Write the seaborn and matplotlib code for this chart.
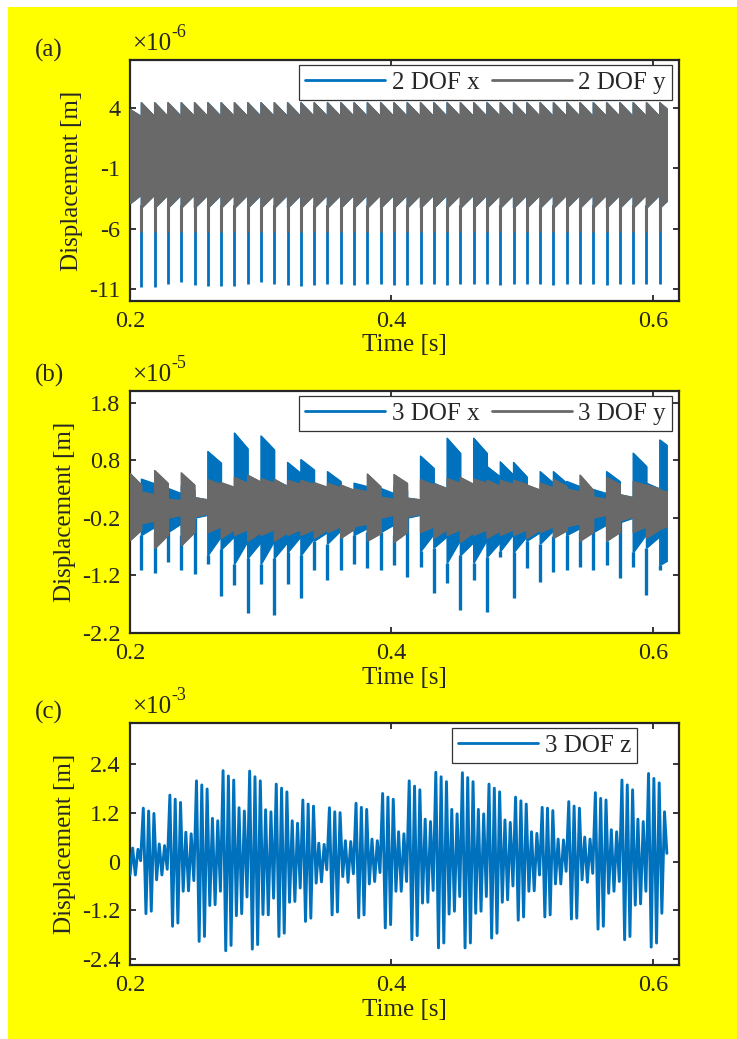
import numpy as np
import matplotlib
matplotlib.use("Agg")
import matplotlib.pyplot as plt
from matplotlib.patches import Rectangle
from matplotlib.lines import Line2D
from matplotlib.ticker import FormatStrFormatter
import seaborn as sns

# ---------------- data ----------------
# impact (spike) times shared by panels (a) and (b) [s]
spike_times = np.linspace(0.2087, 0.6053, 40)
t_begin, t_end = 0.2, 0.6107

# Panel (a), units 1e-6 m. Segment 0 = before first spike, segment j = after spike j-1
a_gray_top_s = [3.9] + [4.45] * 39 + [4.45]
a_gray_top_e = [3.3] + [3.3] * 39 + [3.95]
a_gray_bot_s = [-3.9] + [-4.25] * 39 + [-4.25]
a_gray_bot_e = [-3.15] + [-3.15] * 39 + [-3.7]
a_gray_spike_min = -6.3
a_blue_spike_min = [-10.83, -10.83, -10.61, -10.42, -10.64, -10.75, -10.75, -10.72, -10.61, -10.42,
                    -10.61, -10.69, -10.72, -10.64, -10.58, -10.61, -10.69, -10.61, -10.61, -10.69,
                    -10.64, -10.58, -10.61, -10.69, -10.61, -10.58, -10.61, -10.69, -10.61, -10.58,
                    -10.61, -10.69, -10.61, -10.58, -10.61, -10.69, -10.61, -10.61, -10.61, -10.61]

# Panel (b), units 1e-5 m (pre-segment + 40 segments)
b_blue_top_s = [0.45, 0.47, 0.30, 0.31, 0.35, 0.15, 0.95, 0.40, 1.27, 0.45, 1.22, 0.45, 0.76, 0.81, 0.35,
                0.60, 0.30, 0.40, 0.30, 0.31, 0.35, 0.14, 0.87, 0.40, 1.18, 0.45, 1.18, 0.69, 0.77, 0.76,
                0.35, 0.60, 0.60, 0.43, 0.30, 0.29, 0.60, 0.20, 0.92, 0.40, 1.15]
b_blue_top_e = [0.35, 0.39, 0.25, 0.22, 0.28, 0.11, 0.75, 0.30, 1.00, 0.35, 0.98, 0.35, 0.57, 0.63, 0.28,
                0.43, 0.25, 0.34, 0.25, 0.22, 0.28, 0.11, 0.66, 0.30, 0.92, 0.35, 0.92, 0.51, 0.54, 0.51,
                0.28, 0.40, 0.40, 0.34, 0.25, 0.22, 0.43, 0.15, 0.69, 0.30, 1.06]
b_blue_bot_s = [-0.50, -0.50, -0.45, -0.45, -0.50, -0.20, -0.85, -0.75, -1.00, -0.90, -1.00, -0.90, -0.80,
                -0.85, -0.60, -0.65, -0.50, -0.50, -0.45, -0.45, -0.50, -0.20, -0.78, -0.72, -0.98, -0.85,
                -0.98, -0.88, -0.78, -0.80, -0.60, -0.65, -0.52, -0.50, -0.45, -0.45, -0.60, -0.28, -0.80,
                -0.72, -1.02]
b_blue_bot_e = [-0.35, -0.36, -0.35, -0.30, -0.40, -0.15, -0.52, -0.52, -0.60, -0.62, -0.60, -0.62, -0.52,
                -0.55, -0.45, -0.42, -0.40, -0.38, -0.35, -0.32, -0.40, -0.15, -0.48, -0.52, -0.58, -0.62,
                -0.58, -0.62, -0.48, -0.52, -0.45, -0.42, -0.40, -0.38, -0.35, -0.32, -0.42, -0.20, -0.48,
                -0.52, -0.95]
b_blue_spike_min = [-1.10, -1.16, -0.97, -1.10, -1.17, -1.00, -1.56, -1.37, -1.86, -1.35, -1.89, -1.35,
                    -1.60, -1.11, -1.28, -1.10, -1.00, -1.08, -1.10, -1.02, -1.23, -1.05, -1.51, -1.34,
                    -1.80, -1.28, -1.83, -0.88, -1.60, -1.08, -1.31, -1.14, -1.10, -1.05, -1.10, -1.02,
                    -1.25, -1.05, -1.54, -1.11]
b_gray_top_s = [0.57, 0.25, 0.62, 0.12, 0.58, 0.15, 0.46, 0.41, 0.50, 0.54, 0.48, 0.47, 0.45, 0.45, 0.41,
                0.40, 0.37, 0.30, 0.56, 0.16, 0.55, 0.14, 0.46, 0.39, 0.48, 0.50, 0.47, 0.45, 0.45, 0.45,
                0.37, 0.40, 0.47, 0.30, 0.54, 0.16, 0.50, 0.20, 0.43, 0.37, 0.28]
b_gray_top_e = [0.37, 0.20, 0.40, 0.10, 0.37, 0.11, 0.38, 0.33, 0.40, 0.42, 0.40, 0.34, 0.38, 0.38, 0.33,
                0.32, 0.28, 0.25, 0.34, 0.12, 0.40, 0.11, 0.37, 0.31, 0.40, 0.38, 0.40, 0.35, 0.38, 0.38,
                0.28, 0.32, 0.34, 0.25, 0.28, 0.12, 0.38, 0.15, 0.36, 0.30, 0.25]
b_gray_bot_s = [-0.59, -0.30, -0.73, -0.20, -0.68, -0.18, -0.45, -0.55, -0.50, -0.60, -0.50, -0.60, -0.50,
                -0.50, -0.55, -0.45, -0.55, -0.35, -0.60, -0.20, -0.62, -0.18, -0.45, -0.55, -0.50, -0.62,
                -0.50, -0.55, -0.50, -0.50, -0.55, -0.45, -0.55, -0.35, -0.60, -0.20, -0.60, -0.25, -0.45,
                -0.55, -0.40]
b_gray_bot_e = [-0.41, -0.25, -0.50, -0.15, -0.45, -0.13, -0.35, -0.40, -0.40, -0.45, -0.40, -0.45, -0.40,
                -0.40, -0.40, -0.35, -0.40, -0.30, -0.47, -0.15, -0.45, -0.13, -0.35, -0.40, -0.40, -0.45,
                -0.40, -0.42, -0.40, -0.40, -0.40, -0.35, -0.42, -0.30, -0.45, -0.15, -0.45, -0.18, -0.35,
                -0.40, -0.35]

# Panel (c), units 1e-3 m: successive extrema of the z response
z_extrema = [
    -0.33, 0.33, -0.33, 0.30, 0.02,
    1.31, -1.28, 1.24, -1.22, 1.18, -0.45, 0.43, -0.33, 0.39, -0.19,
    1.63, -1.59, 1.53, -1.51, 1.45, -0.73, 0.72, -0.72, 0.68, -0.47,
    1.98, -1.96, 1.88, -1.84, 1.78, -1.08, 1.06, -1.06, 1.00, -0.73,
    2.23, -2.19, 2.10, -2.06, 2.00, -1.33, 1.32, -1.28, 1.24, -0.87,
    2.22, -2.15, 2.08, -2.04, 1.98, -1.30, 1.27, -1.31, 1.22, -0.90,
    1.90, -1.84, 1.80, -1.76, 1.71, -1.00, 1.00, -0.98, 0.94, -0.65,
    1.51, -1.47, 1.41, -1.39, 1.36, -0.53, 0.45, -0.50, 0.42, -0.20,
    1.32, -1.31, 1.22, -1.24, 1.20, -0.37, 0.51, -0.51, 0.49, -0.30,
    1.43, -1.38, 1.33, -1.31, 1.28, -0.55, 0.55, -0.49, 0.51, -0.27,
    1.67, -1.63, 1.58, -1.55, 1.53, -0.73, 0.73, -0.73, 0.68, -0.49,
    1.98, -1.92, 1.85, -1.82, 1.76, -1.02, 1.04, -1.00, 0.98, -0.71,
    2.19, -2.12, 2.08, -2.00, 1.96, -1.29, 1.28, -1.22, 1.17, -0.86,
    2.18, -2.12, 2.06, -2.00, 1.96, -1.27, 1.28, -1.22, 1.17, -0.86,
    1.90, -1.88, 1.80, -1.76, 1.71, -1.00, 1.02, -0.94, 0.96, -0.60,
    1.58, -1.44, 1.49, -1.36, 1.41, -0.73, 0.73, -0.72, 0.69, -0.33,
    1.33, -1.36, 1.31, -1.31, 1.25, -0.55, 0.55, -0.55, 0.53, -0.24,
    1.47, -1.41, 1.36, -1.39, 1.31, -0.45, 0.60, -0.51, 0.55, -0.29,
    1.69, -1.66, 1.55, -1.59, 1.51, -0.78, 0.78, -0.73, 0.73, -0.49,
    2.00, -1.92, 1.88, -1.84, 1.76, -1.07, 1.04, -1.04, 0.98, -0.73,
    2.16, -2.10, 2.04, -2.00, 1.93, -1.27, 1.22,
]
z_first_time, z_last_extremum_time = 0.2, 0.60891
z_end_value = 0.2

legend_a = ["2 DOF x", "2 DOF y"]
legend_b = ["3 DOF x", "3 DOF y"]
legend_c = ["3 DOF z"]
x_ticks = [0.2, 0.4, 0.6]
a_yticks = [4, -1, -6, -11]
b_yticks = [1.8, 0.8, -0.2, -1.2, -2.2]
c_yticks = [2.4, 1.2, 0, -1.2, -2.4]
exponents = ["-6", "-5", "-3"]

# ---------------- style ----------------
sns.set_style("ticks")
plt.rcParams["font.family"] = ["Liberation Serif", "DejaVu Serif"]
plt.rcParams["axes.unicode_minus"] = False

BLUE = "#0072BD"
GRAY = "#696969"
YELLOW = "#FFFF00"
INK = "#262626"
FS = 18

fig = plt.figure(figsize=(7.37, 10.39), dpi=100)
fig.patch.set_facecolor("white")
fig.patches.append(Rectangle((8 / 737, 0), 1, 1 - 7 / 1039, transform=fig.transFigure,
                             facecolor=YELLOW, edgecolor="none", zorder=-10))

L, W = 130 / 737, 549 / 737
H = 242 / 1039
ax_a = fig.add_axes([L, 1 - 301 / 1039, W, 241 / 1039])
ax_b = fig.add_axes([L, 1 - 633 / 1039, W, H])
ax_c = fig.add_axes([L, 1 - 965 / 1039, W, H])

edges = np.concatenate([[t_begin], spike_times, [t_end]])


def seg_xy(s_vals, e_vals):
    xs, ys = [], []
    for j in range(len(edges) - 1):
        xs += [edges[j], edges[j + 1]]
        ys += [s_vals[j], e_vals[j]]
    return np.array(xs), np.array(ys)


def band(ax, top_s, top_e, bot_s, bot_e, color, z):
    x, top = seg_xy(top_s, top_e)
    _, bot = seg_xy(bot_s, bot_e)
    ax.fill_between(x, bot, top, color=color, lw=0.8, edgecolor=color, zorder=z)
    sns.lineplot(x=x, y=top, ax=ax, color=color, lw=1.0, estimator=None, sort=False, zorder=z)
    sns.lineplot(x=x, y=bot, ax=ax, color=color, lw=1.0, estimator=None, sort=False, zorder=z)


def style_axes(ax, ylim, yticks, exp):
    ax.set_facecolor("white")
    ax.set_xlim(0.2, 0.62)
    ax.set_ylim(*ylim)
    ax.set_xticks(x_ticks)
    ax.set_yticks(yticks)
    ax.xaxis.set_major_formatter(FormatStrFormatter("%g"))
    ax.yaxis.set_major_formatter(FormatStrFormatter("%g"))
    ax.tick_params(direction="in", length=4.5, width=1.3, labelsize=17.5, top=True, right=True,
                   colors=INK, labelcolor=INK)
    ax.tick_params(axis="x", pad=7)
    ax.tick_params(axis="y", pad=7)
    for sp in ax.spines.values():
        sp.set_linewidth(1.6)
        sp.set_color(INK)
        sp.set_visible(True)
    ax.set_xlabel("Time [s]", fontsize=FS, labelpad=2, color=INK)
    ax.set_ylabel("Displacement [m]", fontsize=FS, labelpad=4, color=INK)
    base = ax.annotate("\u00d710", xy=(0.004, 1 + 5 / 242), xycoords="axes fraction",
                       fontsize=FS, va="bottom", ha="left", color=INK)
    ax.annotate(exp, xy=(1.0, 0.62), xycoords=base, fontsize=13, va="bottom", ha="left", color=INK)


def add_legend(ax, colors, labels, right, ncol):
    handles = [Line2D([0], [0], color=c, lw=2) for c in colors]
    leg = ax.legend(handles, labels, ncol=ncol, loc="upper right", bbox_to_anchor=(right, 0.979),
                    fontsize=FS, frameon=True, fancybox=False, framealpha=1, edgecolor="#333333",
                    handlelength=3.2, handletextpad=0.25, columnspacing=0.5, borderpad=0.25,
                    borderaxespad=0)
    leg.get_frame().set_linewidth(0.9)
    leg.set_zorder(20)


# ---- panel (a)
band(ax_a, a_gray_top_s, a_gray_top_e, a_gray_bot_s, a_gray_bot_e, BLUE, 2)
ax_a.vlines(spike_times, -4.0, a_blue_spike_min, color=BLUE, lw=2.0, zorder=3)
band(ax_a, a_gray_top_s, a_gray_top_e, a_gray_bot_s, a_gray_bot_e, GRAY, 4)
ax_a.vlines(spike_times, -4.0, a_gray_spike_min, color=GRAY, lw=2.2, zorder=5)
style_axes(ax_a, (-12, 8), a_yticks, exponents[0])
add_legend(ax_a, [BLUE, GRAY], legend_a, 0.987, 2)

# ---- panel (b)
band(ax_b, b_blue_top_s, b_blue_top_e, b_blue_bot_s, b_blue_bot_e, BLUE, 2)
ax_b.vlines(spike_times, np.array(b_blue_bot_s[1:]), b_blue_spike_min, color=BLUE, lw=2.4, zorder=3)
band(ax_b, b_gray_top_s, b_gray_top_e, b_gray_bot_s, b_gray_bot_e, GRAY, 4)
style_axes(ax_b, (-2.2, 2.0), b_yticks, exponents[1])
add_legend(ax_b, [BLUE, GRAY], legend_b, 0.987, 2)

# ---- panel (c)
tz = np.linspace(z_first_time, z_last_extremum_time, len(z_extrema))
tz = np.append(tz, t_end)
zz = np.append(np.array(z_extrema), z_end_value)
sns.lineplot(x=tz, y=zz, ax=ax_c, color=BLUE, lw=2.1, estimator=None, sort=False, zorder=3)
style_axes(ax_c, (-2.54, 3.4), c_yticks, exponents[2])
add_legend(ax_c, [BLUE], legend_c, 0.9235, 1)

for lab, y in [("(a)", 50), ("(b)", 375), ("(c)", 712)]:
    fig.text(35 / 737, 1 - y / 1039, lab, fontsize=FS, va="center", ha="left", color=INK)

fig.savefig("out.png", dpi=100, facecolor=fig.get_facecolor())
